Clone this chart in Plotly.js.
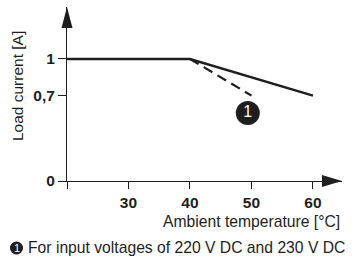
<!DOCTYPE html>
<html>
<head>
<meta charset="utf-8">
<script src="https://cdn.plot.ly/plotly-3.0.1.min.js"></script>
<style>html,body{margin:0;padding:0;background:#fff}#chart{width:354px;height:264px}</style>
</head>
<body>
<div id="chart"></div>
<script>
// Data
const temps = [20, 40, 60];
const current = [1, 1, 0.7];
const tempsDerated = [40, 50];
const currentDerated = [1, 0.7];
const xTickVals = [20, 30, 40, 50, 60];
const xTickText = ['', '30', '40', '50', '60'];
const yTickVals = [0, 0.7, 1];
const yTickText = ['0', '0,7', '1'];
const calloutX = [49.4];
const calloutY = [0.557];
const calloutText = ['1'];

const ink = '#1e1e1e';
const font = 'Liberation Sans, Arial, sans-serif';

const traces = [
  {x: temps, y: current, mode: 'lines', line: {color: ink, width: 2.4}, hoverinfo: 'skip'},
  {x: tempsDerated, y: currentDerated, mode: 'lines', line: {color: ink, width: 2.2, dash: '10px,6px'}, hoverinfo: 'skip'},
  {x: calloutX, y: calloutY, mode: 'markers+text', text: calloutText, textposition: 'middle center',
   marker: {size: 24, color: ink}, textfont: {color: '#fff', size: 16, family: font}, hoverinfo: 'skip', cliponaxis: false}
];

const layout = {
  width: 354, height: 264,
  margin: {l: 67, r: 12, t: 7, b: 83, pad: 0},
  showlegend: false,
  paper_bgcolor: '#fff', plot_bgcolor: '#fff',
  font: {family: font, color: ink, size: 15.5},
  xaxis: {
    range: [20, 64.72], showgrid: false, zeroline: false,
    showline: true, linecolor: ink, linewidth: 1,
    tickvals: xTickVals, ticktext: xTickText,
    ticks: 'outside', ticklen: 7, tickwidth: 1, tickcolor: ink,
    tickfont: {family: font, size: 15.5, color: ink, weight: 'bold'},
    fixedrange: true
  },
  yaxis: {
    range: [0, 1.426], showgrid: false, zeroline: false,
    showline: true, linecolor: ink, linewidth: 1,
    tickvals: yTickVals, ticktext: yTickText,
    ticks: 'outside', ticklen: 8, tickwidth: 1, tickcolor: ink,
    tickfont: {family: font, size: 15.5, color: ink, weight: 'bold'},
    fixedrange: true
  },
  shapes: [
    {type: 'path', xref: 'paper', yref: 'paper', path: 'M -0.02 0.879 L 0 1 L 0.02 0.879 Z', fillcolor: ink, line: {width: 0}},
    {type: 'path', xref: 'paper', yref: 'paper', path: 'M 0.927 0.0345 L 1 0 L 0.927 -0.0345 Z', fillcolor: ink, line: {width: 0}},
    {type: 'circle', xref: 'paper', yref: 'paper', x0: -0.2073, x1: -0.16, y0: -0.4224, y1: -0.3477, fillcolor: ink, line: {width: 0}}
  ],
  annotations: [
    {xref: 'paper', yref: 'paper', x: 1, y: -0.23, xanchor: 'right', yanchor: 'middle', showarrow: false,
     text: 'Ambient temperature [°C]', font: {family: font, size: 15.7, color: ink}},
    {xref: 'paper', yref: 'paper', x: -0.178, y: 0.546, xanchor: 'center', yanchor: 'middle', showarrow: false,
     textangle: -90, text: 'Load current [A]', font: {family: font, size: 15.5, color: ink}},
    {xref: 'paper', yref: 'paper', x: -0.1836, y: -0.385, xanchor: 'center', yanchor: 'middle', showarrow: false,
     text: '1', font: {family: font, size: 11, color: '#fff'}},
    {xref: 'paper', yref: 'paper', x: -0.149, y: -0.385, xanchor: 'left', yanchor: 'middle', showarrow: false,
     text: 'For input voltages of 220 V DC and 230 V DC', font: {family: font, size: 15.7, color: ink}}
  ]
};

Plotly.newPlot('chart', traces, layout, {staticPlot: true, displayModeBar: false});
</script>
</body>
</html>
